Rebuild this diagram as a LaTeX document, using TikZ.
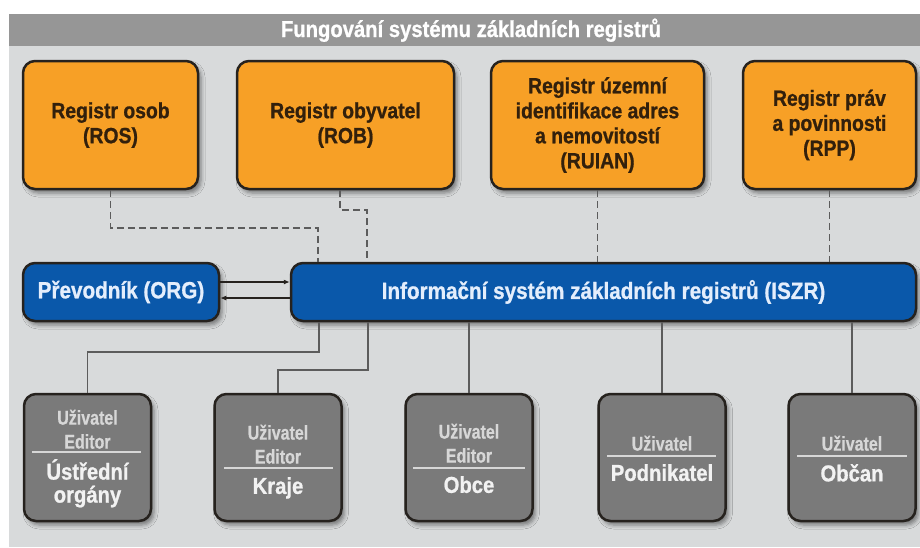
\documentclass[tikz,border=0pt]{standalone}
\usepackage{fontspec}
\setmainfont{Liberation Sans}
\newfontfamily\boxfont[FakeStretch=0.88,BoldFeatures={FakeBold=0.9}]{Liberation Sans}
\newfontfamily\userfont[FakeStretch=0.8,BoldFeatures={FakeBold=0.5}]{Liberation Sans}
\usetikzlibrary{arrows.meta,shadows.blur}

\definecolor{panelgrey}{RGB}{216,218,219}
\definecolor{titlegrey}{RGB}{150,150,150}
\definecolor{regorange}{RGB}{247,160,38}
\definecolor{regtext}{RGB}{50,32,12}
\definecolor{iszrblue}{RGB}{10,88,170}
\definecolor{bluetext}{RGB}{228,238,252}
\definecolor{usergrey}{RGB}{122,122,122}
\definecolor{usertext}{RGB}{242,242,242}
\definecolor{userdim}{RGB}{215,215,215}
\definecolor{edgecol}{RGB}{38,34,30}
\definecolor{linkgrey}{RGB}{92,92,92}

\tikzset{
  boxshadow/.style={blur shadow={shadow xshift=3pt,shadow yshift=-4pt,
      shadow blur radius=4pt,shadow opacity=45}},
  register/.style={draw=edgecol,line width=2.5pt,rounded corners=12pt,
      fill=regorange,text=regtext,minimum height=128pt,align=center,
      inner sep=0pt,font=\boxfont\bfseries\fontsize{22}{25}\selectfont,boxshadow},
  system/.style={draw=edgecol,line width=2.5pt,rounded corners=12pt,
      fill=iszrblue,text=bluetext,minimum height=58pt,inner sep=0pt,
      font=\boxfont\bfseries\fontsize{23.5}{26}\selectfont,boxshadow},
  userbox/.style={draw=edgecol,line width=2.5pt,rounded corners=12pt,
      fill=usergrey,minimum width=127pt,minimum height=127pt,boxshadow},
  usertop/.style={anchor=south,inner sep=0pt,align=center,text=userdim,
      font=\userfont\bfseries\fontsize{20}{24}\selectfont},
  userlabel/.style={anchor=north,inner sep=0pt,align=center,text=usertext,
      font=\boxfont\bfseries\fontsize{23}{23}\selectfont},
  divider/.style={draw=userdim,line width=1.5pt},
  dashlink/.style={draw=linkgrey,line width=1.4pt,dash pattern=on 7pt off 4pt},
  solidlink/.style={draw=linkgrey,line width=1.2pt},
  orglink/.style={draw=edgecol,line width=1.1pt,-{Latex[length=6pt,width=5pt]}}
}

\begin{document}
\begin{tikzpicture}[x=1pt,y=-1pt]
  \useasboundingbox (0,0) rectangle (920,547);
  \fill[panelgrey] (9,14) rectangle (920,547);
  \fill[titlegrey] (9,14) rectangle (920,46);
  \node[anchor=base,text=white,inner sep=0pt,
        font=\boxfont\bfseries\fontsize{23}{25}\selectfont] (title) at (471,37)
        {Fungování systému základních registrů};

  % registry
  \node[register,minimum width=175pt] (ros) at (110.5,125) {Registr osob\\(ROS)};
  \node[register,minimum width=217pt] (rob) at (345.5,125) {Registr obyvatel\\(ROB)};
  \node[register,minimum width=213pt] (ruian) at (597.5,125)
        {Registr územní\\identifikace adres\\a nemovitostí\\(RUIAN)};
  \node[register,minimum width=173pt] (rpp) at (829.5,125)
        {Registr práv\\a povinnosti\\(RPP)};

  % ISZR a prevodnik
  \node[system,minimum width=196pt] (org) at (121,292) {Převodník (ORG)};
  \node[system,minimum width=625pt] (iszr) at (603.5,292)
        {Informační systém základních registrů (ISZR)};

  \draw[dashlink] (ros.south) |- (318,228) -- (iszr.north -| 318,0);
  \draw[dashlink] (rob.south -| 340,0) |- (367,210) -- (iszr.north -| 367,0);
  \draw[dashlink] (ruian.south) -- (ruian.south |- iszr.north);
  \draw[dashlink] (rpp.south) -- (rpp.south |- iszr.north);

  \draw[orglink] ([yshift=10pt]org.east) -- ([yshift=10pt]iszr.west);
  \draw[orglink] ([yshift=-6pt]iszr.west) -- ([yshift=-6pt]org.east);

  % uzivatele
  \node[userbox] (ustredni) at (87.5,457.5) {};
  \node[userbox] (kraje) at (278,457.5) {};
  \node[userbox] (obce) at (469,457.5) {};
  \node[userbox] (podnikatel) at (662,457.5) {};
  \node[userbox] (obcan) at (852,457.5) {};

  \draw[divider] ([xshift=9pt]ustredni.west |- 0,452) -- ([xshift=-11pt]ustredni.east |- 0,452);
  \draw[divider] ([xshift=11pt]kraje.west |- 0,468) -- ([xshift=-10pt]kraje.east |- 0,468);
  \draw[divider] ([xshift=9pt]obce.west |- 0,468) -- ([xshift=-9pt]obce.east |- 0,468);
  \draw[divider] ([xshift=10pt]podnikatel.west |- 0,456) -- ([xshift=-11pt]podnikatel.east |- 0,456);
  \draw[divider] ([xshift=10pt]obcan.west |- 0,456) -- ([xshift=-10pt]obcan.east |- 0,456);

  \node[usertop] (ustredni-role) at (87.5,449) {Uživatel\\Editor};
  \node[userlabel] (ustredni-name) at (87.5,459) {Ústřední\\orgány};
  \node[usertop] (kraje-role) at (278,464) {Uživatel\\Editor};
  \node[userlabel] (kraje-name) at (278,477) {Kraje};
  \node[usertop] (obce-role) at (469,463) {Uživatel\\Editor};
  \node[userlabel] (obce-name) at (469,476) {Obce};
  \node[usertop] (podnikatel-role) at (662,451) {Uživatel};
  \node[userlabel] (podnikatel-name) at (662,464) {Podnikatel};
  \node[usertop] (obcan-role) at (852,451) {Uživatel};
  \node[userlabel] (obcan-name) at (852,464) {Občan};

  \draw[solidlink] (iszr.south -| 319,0) |- (87.5,352) -- (ustredni.north);
  \draw[solidlink] (iszr.south -| 368,0) |- (278,370) -- (kraje.north);
  \draw[solidlink] (iszr.south -| 469,0) -- (obce.north);
  \draw[solidlink] (iszr.south -| 662,0) -- (podnikatel.north);
  \draw[solidlink] (iszr.south -| 852,0) -- (obcan.north);
\end{tikzpicture}
\end{document}
